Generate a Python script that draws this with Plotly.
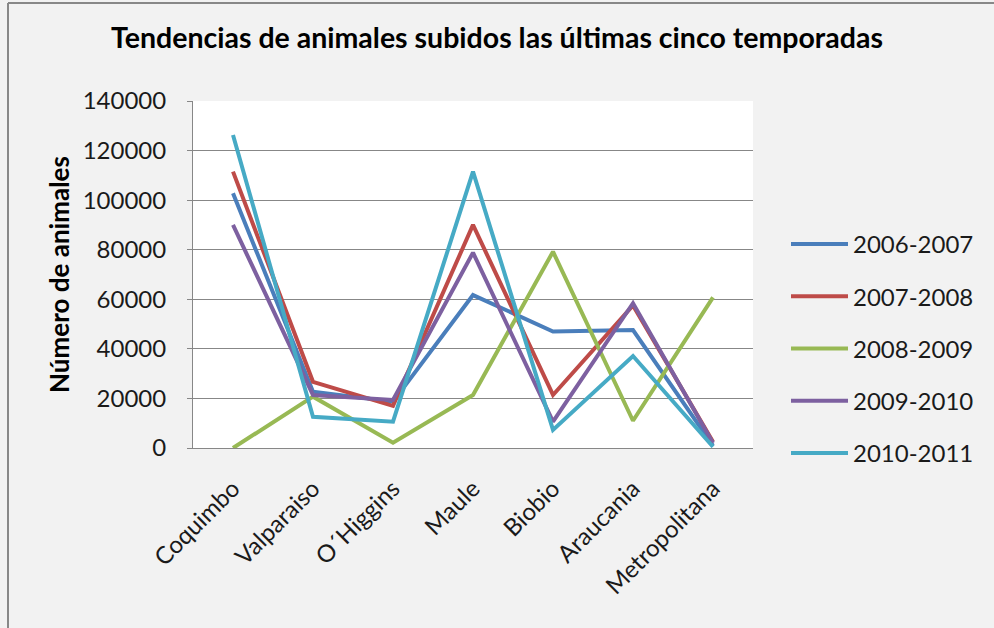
import plotly.graph_objects as go

categories = ["Coquimbo", "Valparaiso", "O´Higgins", "Maule", "Biobio", "Araucania", "Metropolitana"]
s2006_2007 = [102800, 22700, 18700, 61700, 47000, 47600, 1000]
s2007_2008 = [111500, 26700, 17000, 90000, 21400, 57500, 2500]
s2008_2009 = [0, 20700, 2100, 21400, 79200, 11000, 60800]
s2009_2010 = [90000, 21400, 19400, 78800, 10600, 58400, 2000]
s2010_2011 = [126300, 12600, 10600, 111500, 7300, 37100, 500]
series_names = ["2006-2007", "2007-2008", "2008-2009", "2009-2010", "2010-2011"]
series_values = [s2006_2007, s2007_2008, s2008_2009, s2009_2010, s2010_2011]
colors = ["#4A7EBB", "#BE4B48", "#98B954", "#7D60A0", "#46AAC5"]

FONT = "Lato"
fig = go.Figure()
for i, (name, vals) in enumerate(zip(series_names, series_values)):
    fig.add_trace(go.Scatter(
        x=categories, y=vals, name=name, mode="lines",
        line=dict(color=colors[i], width=4), legendgroup=name,
    ))

# plot area: x 193..753, y 101..448
L, R, T, B = 193, 753, 101, 448
W, H = R - L, B - T
def px(x):
    return (x - L) / W
def py(y):
    return (B - y) / H

fig.update_layout(
    width=994, height=628,
    margin=dict(l=L, r=994 - R, t=T, b=628 - B, pad=0),
    paper_bgcolor="#F2F2F2", plot_bgcolor="#FFFFFF",
    font=dict(family=FONT, size=24, color="#1a1a1a"),
    title=dict(text="<b>Tendencias de animales subidos las últimas cinco temporadas</b>",
               x=0.5, xanchor="center", xref="container", y=1 - 38 / 628, yanchor="middle",
               font=dict(family=FONT, size=28.5, color="#000000")),
    showlegend=True,
    legend=dict(x=px(786), xanchor="left", y=py(222), yanchor="top",
                bgcolor="rgba(0,0,0,0)", tracegroupgap=18,
                font=dict(family=FONT, size=24, color="#1a1a1a"),
                itemwidth=57),
    xaxis=dict(
        type="category", range=[-0.5, 6.5], showgrid=False,
        showline=True, linecolor="#878787", linewidth=1,
        ticks="", tickangle=-45, tickfont=dict(size=24),
        ticklabelstandoff=16,
        fixedrange=True,
    ),
    yaxis=dict(
        range=[0, 140000], dtick=20000, tickformat="d",
        showgrid=True, gridcolor="#878787", gridwidth=1,
        showline=True, linecolor="#878787", linewidth=1,
        ticks="outside", ticklen=5, tickcolor="#878787",
        ticklabelstandoff=16,
        tickfont=dict(size=24), zeroline=False,
        title=dict(text="<b>Número de animales</b>", font=dict(size=26, color="#000000"), standoff=5),
        fixedrange=True,
    ),
    shapes=[
        dict(type="line", xref="paper", yref="paper", x0=px(8), y0=py(3), x1=px(1000), y1=py(3),
             line=dict(color="#888888", width=2)),
        dict(type="line", xref="paper", yref="paper", x0=px(8), y0=py(3), x1=px(8), y1=py(640),
             line=dict(color="#888888", width=2)),
    ],
)

fig.write_html("out.html", config={"displayModeBar": False},
               post_script="document.body.style.margin='0';")
